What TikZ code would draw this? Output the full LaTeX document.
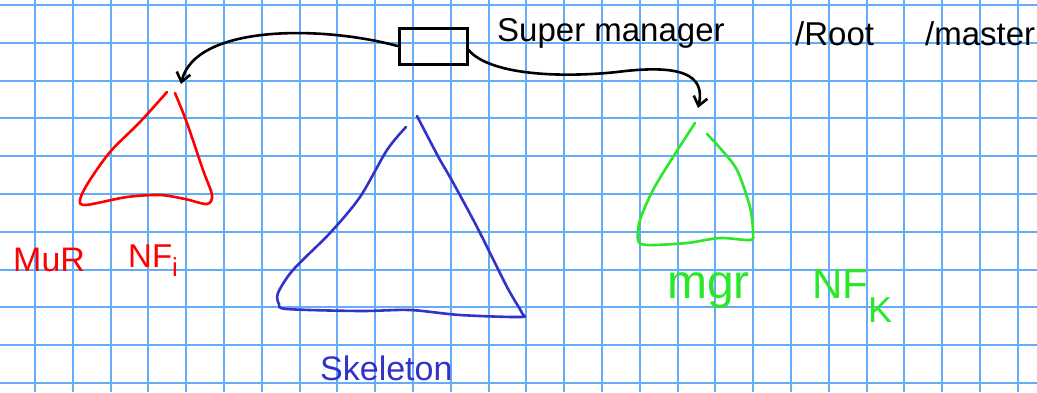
\documentclass[tikz,border=0pt]{standalone}
\usepackage{fontspec}
\setmainfont{Liberation Sans}
\usetikzlibrary{arrows.meta}
\definecolor{gridblue}{RGB}{100,172,248}
\definecolor{penred}{RGB}{255,0,0}
\definecolor{penblue}{RGB}{50,50,200}
\definecolor{pengreen}{RGB}{40,232,40}
\tikzset{
  gridline/.style={gridblue, line width=2pt},
  pen/.style={line width=2.6pt, line cap=round, line join=round},
  managerbox/.style={draw=black, line width=3pt, minimum width=68pt, minimum height=36pt, inner sep=0pt},
  handarrow/.style={pen, black, -{Straight Barb[length=9pt,width=14pt,line width=2.6pt]}},
  label/.style={inner sep=0pt, anchor=base west}
}
\begin{document}
\begin{tikzpicture}[x=1pt,y=-1pt]
\useasboundingbox (0,0) rectangle (1037,392);
\fill[white] (0,0) rectangle (1037,392);
% grid
\foreach \k in {0,...,26} { \draw[gridline] ({35+37.8*\k},0) -- ({35+37.8*\k},392); }
\foreach \k in {0,...,10} { \draw[gridline] (0,{5+37.8*\k}) -- (1037,{5+37.8*\k}); }

% manager box
\node[managerbox] (mgr) at (433,46) {};
\coordinate (redtop) at (181,84);
\coordinate (greentop) at (698,108);

% connectors
\draw[handarrow] (mgr.west) .. controls (320,25) and (195,25) .. (redtop);
\draw[handarrow] ([yshift=-4pt]mgr.east) .. controls (490,75) and (560,78) .. (617,72)
   .. controls (680,64) and (706,74) .. (greentop);

% red triangle
\draw[pen, penred] plot[smooth, tension=0.5] coordinates {(167,92) (140,122) (110,152) (88,183) (80,200) (86,205) (127,197) (160,195) (185,199) (207,204) (212,195) (203,170) (187,123) (175,93)};
% blue triangle
\draw[pen, penblue] plot[smooth, tension=0.5] coordinates {(406,127) (387,150) (360,197) (330,233) (293,270) (278,293) (279,304) (287,309) (360,311) (410,310) (460,315) (520,317) (522,313) (507,287) (477,227) (450,177) (440,160) (417,116)};
% green triangle
\draw[pen, pengreen] plot[smooth, tension=0.5] coordinates {(695,123) (673,157) (653,190) (640,220) (638,240) (647,245) (687,243) (720,238) (750,240) (753,233) (750,207) (737,170) (720,148) (707,134)};

% texts
\node[label, font=\fontsize{33}{36}\selectfont] (super) at (497,41) {Super manager};
\node[label, font=\fontsize{33}{36}\selectfont] (root) at (795,45) {/Root};
\node[label, font=\fontsize{33}{36}\selectfont] (master) at (925,45) {/master};
\node[label, penred, font=\fontsize{34}{38}\selectfont] (mur) at (13,271) {MuR};
\node[label, penred, font=\fontsize{33}{36}\selectfont] (nfi) at (128,267) {NF\raisebox{-9pt}{\fontsize{26}{28}\selectfont i}};
\node[label, pengreen, font=\fontsize{48}{52}\selectfont] (mgrtxt) at (667,298) {mgr};
\node[label, pengreen, font=\fontsize{42}{46}\selectfont] (nfk) at (812,298) {NF\raisebox{-24pt}{\fontsize{36}{40}\selectfont K}};
\node[label, penblue, font=\fontsize{34}{38}\selectfont] (skel) at (320,380) {Skeleton};
\end{tikzpicture}
\end{document}
